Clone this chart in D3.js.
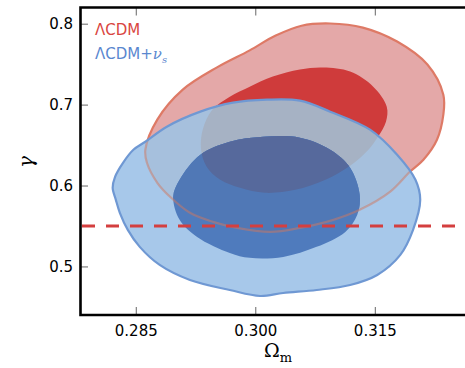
<!DOCTYPE html>
<html>
<head>
<meta charset="utf-8">
<script src="https://cdn.jsdelivr.net/npm/d3@7"></script>
<style>
  body { margin: 0; background: #fff; }
  text { font-family: "DejaVu Sans", sans-serif; }
</style>
</head>
<body>
<svg id="chart" width="465" height="368"></svg>
<script>
// axis ticks
const xTicks = [0.285, 0.300, 0.315];
const yTicks = [0.5, 0.6, 0.7, 0.8];
const gammaGR = 0.55;   // dashed reference line

// contours, [Omega_m, gamma]
const lcdmOuter = [
  [0.2862, 0.6442], [0.2877, 0.6814], [0.2909, 0.7185], [0.2952, 0.7460], [0.2993, 0.7670],
  [0.3025, 0.7850], [0.3058, 0.7975], [0.3094, 0.8002], [0.3135, 0.7952], [0.3178, 0.7779],
  [0.3216, 0.7495], [0.3236, 0.7123], [0.3236, 0.6876], [0.3228, 0.6566], [0.3211, 0.6319],
  [0.3194, 0.6170], [0.3169, 0.5922], [0.3131, 0.5700], [0.3098, 0.5576], [0.3056, 0.5477],
  [0.3019, 0.5427], [0.2977, 0.5477], [0.2947, 0.5551], [0.2918, 0.5663], [0.2893, 0.5861],
  [0.2877, 0.6034], [0.2864, 0.6281]
];
const lcdmInner = [
  [0.2946, 0.6937], [0.2968, 0.7098], [0.2993, 0.7222], [0.3022, 0.7346], [0.3056, 0.7433],
  [0.3085, 0.7457], [0.3119, 0.7408], [0.3148, 0.7222], [0.3165, 0.6975], [0.3164, 0.6789],
  [0.3154, 0.6603], [0.3142, 0.6442], [0.3119, 0.6244], [0.3088, 0.6071], [0.3050, 0.5947],
  [0.3012, 0.5910], [0.2981, 0.5972], [0.2956, 0.6071], [0.2939, 0.6232], [0.2932, 0.6442],
  [0.2934, 0.6690]
];
const nusOuter = [
  [0.2821, 0.5972], [0.2824, 0.6108], [0.2834, 0.6281], [0.2847, 0.6442], [0.2862, 0.6541],
  [0.2889, 0.6727], [0.2931, 0.6913], [0.2972, 0.7024], [0.3015, 0.7061], [0.3056, 0.7049],
  [0.3094, 0.6913], [0.3144, 0.6690], [0.3178, 0.6380], [0.3201, 0.6071], [0.3207, 0.5823],
  [0.3198, 0.5452], [0.3182, 0.5143], [0.3153, 0.4895], [0.3119, 0.4771], [0.3077, 0.4709],
  [0.3035, 0.4672], [0.3006, 0.4635], [0.2968, 0.4709], [0.2918, 0.4833], [0.2880, 0.5019],
  [0.2855, 0.5242], [0.2840, 0.5452], [0.2830, 0.5663], [0.2825, 0.5823]
];
const nusInner = [
  [0.2897, 0.5861], [0.2905, 0.6071], [0.2931, 0.6380], [0.2968, 0.6541], [0.3010, 0.6603],
  [0.3056, 0.6591], [0.3094, 0.6442], [0.3119, 0.6220], [0.3131, 0.5885], [0.3128, 0.5638],
  [0.3113, 0.5427], [0.3077, 0.5242], [0.3035, 0.5118], [0.2993, 0.5106], [0.2968, 0.5167],
  [0.2927, 0.5365], [0.2905, 0.5576]
];

const svg = d3.select("#chart");

const x = d3.scaleLinear().domain([0.278, 0.3277]).range([80, 476]);
const y = d3.scaleLinear().domain([0.44, 0.82]).range([315, 7.5]);

const line = d3.line()
  .x(d => x(d[0]))
  .y(d => y(d[1]))
  .curve(d3.curveCatmullRomClosed.alpha(0.5));

// clip paths for the overlap shading
const defs = svg.append("defs");
defs.append("clipPath").attr("id", "clipNusOuter").append("path").attr("d", line(nusOuter));
defs.append("clipPath").attr("id", "clipNusInner").append("path").attr("d", line(nusInner));

const g = svg.append("g");

// LCDM contours
g.append("path").attr("d", line(lcdmOuter)).attr("fill", "#e4a8a8");
g.append("path").attr("d", line(lcdmInner)).attr("fill", "#cf3b3b");
g.append("path").attr("d", line(lcdmOuter))
  .attr("fill", "none").attr("stroke", "#de7a66").attr("stroke-width", 2.2);

// LCDM + nu_s outer
g.append("path").attr("d", line(nusOuter)).attr("fill", "#a7c8ea");
g.append("path").attr("d", line(lcdmOuter)).attr("fill", "#a6c0dd")
  .attr("clip-path", "url(#clipNusOuter)");
g.append("path").attr("d", line(lcdmInner)).attr("fill", "#a6b2c4")
  .attr("clip-path", "url(#clipNusOuter)");

// LCDM + nu_s inner
g.append("path").attr("d", line(nusInner)).attr("fill", "#4f7bbd");
g.append("path").attr("d", line(lcdmOuter)).attr("fill", "#5078b6")
  .attr("clip-path", "url(#clipNusInner)");
g.append("path").attr("d", line(lcdmInner)).attr("fill", "#56699c")
  .attr("clip-path", "url(#clipNusInner)");

// red outline shows faintly through the blue
g.append("path").attr("d", line(lcdmOuter))
  .attr("fill", "none").attr("stroke", "#d0785f").attr("stroke-width", 2.2)
  .attr("opacity", 0.5).attr("clip-path", "url(#clipNusOuter)");

g.append("path").attr("d", line(nusOuter))
  .attr("fill", "none").attr("stroke", "#6f98d3").attr("stroke-width", 2.2);

// dashed gamma = 0.55 line
svg.append("line")
  .attr("x1", x(0.278) + 2).attr("x2", x(0.3277))
  .attr("y1", y(gammaGR)).attr("y2", y(gammaGR))
  .attr("stroke", "#d43f3f").attr("stroke-width", 3)
  .attr("stroke-dasharray", "13,11");

// axes
const yAxis = d3.axisLeft(y).tickValues(yTicks).tickFormat(d3.format(".1f"))
  .tickSize(-8).tickPadding(7);
const xAxis = d3.axisBottom(x).tickValues(xTicks).tickFormat(d3.format(".3f"))
  .tickSize(-8).tickPadding(10);
const xTop = d3.axisTop(x).tickValues(xTicks).tickFormat("").tickSize(-8);

function styleAxis(sel) {
  sel.select(".domain").remove();
  sel.selectAll(".tick line").attr("stroke", "#666").attr("stroke-width", 1);
  sel.selectAll(".tick text").attr("fill", "#000")
    .style("font-size", "15px").style("font-family", "DejaVu Sans");
}

svg.append("g").attr("transform", "translate(80,0)").call(yAxis).call(styleAxis);
svg.append("g").attr("transform", "translate(0,315)").call(xAxis).call(styleAxis);
svg.append("g").attr("transform", "translate(0,7.5)").call(xTop).call(styleAxis);

// spines
svg.append("path")
  .attr("d", `M${x(0.3277)},7.5H80.5V315H${x(0.3277)}`)
  .attr("fill", "none").attr("stroke", "#000").attr("stroke-width", 2.6);

// axis labels
svg.append("text")
  .attr("transform", "translate(33,162) rotate(-90)")
  .attr("text-anchor", "middle")
  .style("font-family", "DejaVu Serif").style("font-size", "20px").style("font-style", "italic")
  .text("γ");

const xl = svg.append("text")
  .attr("x", 278).attr("y", 357)
  .attr("text-anchor", "middle")
  .style("font-family", "DejaVu Serif").style("font-size", "19px");
xl.append("tspan").text("Ω");
xl.append("tspan").attr("dy", 5).style("font-size", "13px").text("m");

// legend
svg.append("text")
  .attr("x", 95).attr("y", 34.5)
  .attr("fill", "#d9463f")
  .style("font-size", "15px")
  .text("ΛCDM");

const leg2 = svg.append("text")
  .attr("x", 95).attr("y", 58.5)
  .attr("fill", "#5a87cf")
  .style("font-size", "15px");
leg2.append("tspan").text("ΛCDM+");
leg2.append("tspan").style("font-family", "DejaVu Serif").style("font-style", "italic").text("ν");
leg2.append("tspan").attr("dy", 4).style("font-size", "10px")
  .style("font-family", "DejaVu Serif").style("font-style", "italic").text("s");
</script>
</body>
</html>
